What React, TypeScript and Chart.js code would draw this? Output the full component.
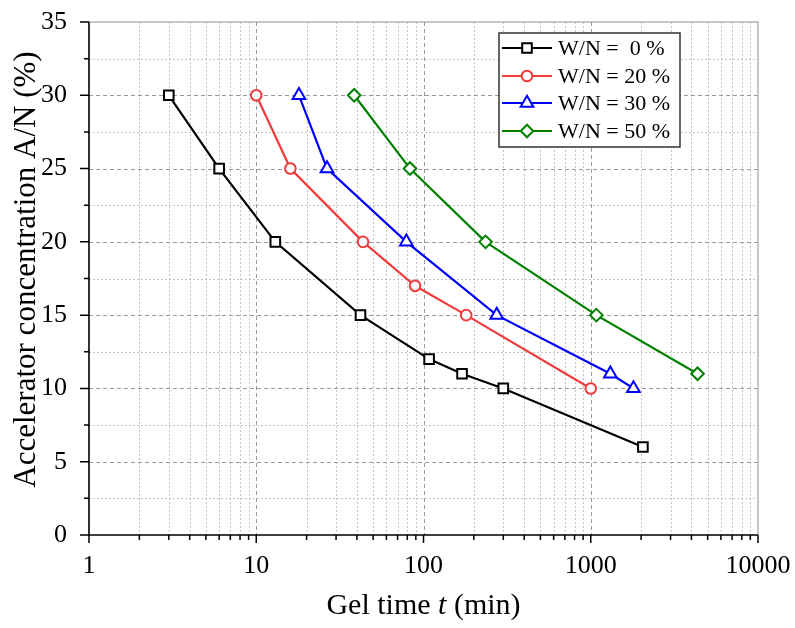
import React, { useEffect, useRef } from "react";
import { Chart, registerables } from "chart.js";

Chart.register(...registerables);

const seriesNames = ["W/N =  0 %", "W/N = 20 %", "W/N = 30 %", "W/N = 50 %"];
const seriesColors = ["#000000", "#f03c3c", "#0000ff", "#008000"];
const seriesMarkers = ["rect", "circle", "triangle", "rectRot"];

const time0 = [3, 6, 13, 42, 108, 170, 300, 2050];
const conc0 = [30, 25, 20, 15, 12, 11, 10, 6];
const time20 = [10, 16, 43.5, 89, 180, 1000];
const conc20 = [30, 25, 20, 17, 15, 10];
const time30 = [18, 26.5, 79, 274, 1310, 1800];
const conc30 = [30, 25, 20, 15, 11, 10];
const time50 = [38.5, 83, 235, 1080, 4350];
const conc50 = [30, 25, 20, 15, 11];

const xMajorTicks = [1, 10, 100, 1000, 10000];
const yMajorTicks = [0, 5, 10, 15, 20, 25, 30, 35];

const FONT = "'Liberation Serif', 'Times New Roman', serif";

function pts(xs: number[], ys: number[]) {
  return xs.map((x, i) => ({ x, y: ys[i] }));
}

function drawMarker(ctx: CanvasRenderingContext2D, style: string, x: number, y: number, r: number) {
  ctx.beginPath();
  if (style === "rect") {
    const s = Math.SQRT1_2 * r;
    ctx.rect(x - s, y - s, 2 * s, 2 * s);
  } else if (style === "circle") {
    ctx.arc(x, y, r, 0, Math.PI * 2);
  } else if (style === "triangle") {
    for (let k = 0; k < 3; k++) {
      const a = -Math.PI / 2 + (k * 2 * Math.PI) / 3;
      const px = x + Math.cos(a) * r;
      const py = y + Math.sin(a) * r;
      if (k === 0) ctx.moveTo(px, py);
      else ctx.lineTo(px, py);
    }
    ctx.closePath();
  } else {
    ctx.moveTo(x, y - r);
    ctx.lineTo(x + r, y);
    ctx.lineTo(x, y + r);
    ctx.lineTo(x - r, y);
    ctx.closePath();
  }
  ctx.fill();
  ctx.stroke();
}

const radii = [6.8, 5.3, 7.3, 6.3];

const framePlugin = {
  id: "frame",
  beforeDatasetsDraw(chart: any) {
    const { ctx, chartArea } = chart;
    const xs = chart.scales.x;
    const ys = chart.scales.y;
    const { left, right, top, bottom } = chartArea;
    ctx.save();
    ctx.lineWidth = 1;
    // minor x
    ctx.strokeStyle = "#c4c4c4";
    ctx.setLineDash([2, 2]);
    for (let d = 0; d < 4; d++) {
      for (let k = 2; k <= 9; k++) {
        const px = Math.round(xs.getPixelForValue(k * Math.pow(10, d))) + 0.5;
        ctx.beginPath();
        ctx.moveTo(px, top);
        ctx.lineTo(px, bottom);
        ctx.stroke();
      }
    }
    for (let v = 2.5; v < 35; v += 5) {
      const py = Math.round(ys.getPixelForValue(v)) + 0.5;
      ctx.beginPath();
      ctx.moveTo(left, py);
      ctx.lineTo(right, py);
      ctx.stroke();
    }
    // major
    ctx.strokeStyle = "#9a9a9a";
    ctx.setLineDash([4, 3]);
    for (const v of xMajorTicks.slice(1, -1)) {
      const px = Math.round(xs.getPixelForValue(v)) + 0.5;
      ctx.beginPath();
      ctx.moveTo(px, top);
      ctx.lineTo(px, bottom);
      ctx.stroke();
    }
    for (const v of yMajorTicks.slice(1, -1)) {
      const py = Math.round(ys.getPixelForValue(v)) + 0.5;
      ctx.beginPath();
      ctx.moveTo(left, py);
      ctx.lineTo(right, py);
      ctx.stroke();
    }
    ctx.setLineDash([]);
    // top/right border
    ctx.strokeStyle = "#b4b4b4";
    ctx.lineWidth = 1.5;
    ctx.beginPath();
    ctx.moveTo(left, top);
    ctx.lineTo(right, top);
    ctx.lineTo(right, bottom);
    ctx.stroke();
    // left/bottom axes
    ctx.strokeStyle = "#000";
    ctx.lineWidth = 1.6;
    ctx.beginPath();
    ctx.moveTo(left, top);
    ctx.lineTo(left, bottom);
    ctx.lineTo(right, bottom);
    ctx.stroke();
    // ticks
    ctx.lineWidth = 1.5;
    ctx.beginPath();
    for (const v of yMajorTicks) {
      const py = ys.getPixelForValue(v);
      ctx.moveTo(left - 9, py);
      ctx.lineTo(left, py);
    }
    for (let v = 2.5; v < 35; v += 5) {
      const py = ys.getPixelForValue(v);
      ctx.moveTo(left - 5, py);
      ctx.lineTo(left, py);
    }
    for (const v of xMajorTicks) {
      const px = xs.getPixelForValue(v);
      ctx.moveTo(px, bottom);
      ctx.lineTo(px, bottom + 8);
    }
    for (let d = 0; d < 4; d++) {
      for (let k = 2; k <= 9; k++) {
        const px = xs.getPixelForValue(k * Math.pow(10, d));
        ctx.moveTo(px, bottom);
        ctx.lineTo(px, bottom + 5);
      }
    }
    ctx.stroke();
    // axis titles
    ctx.fillStyle = "#000";
    ctx.textBaseline = "middle";
    const cx = (left + right) / 2;
    const parts = [
      { t: "Gel time ", f: `30px ${FONT}` },
      { t: "t", f: `italic 30px ${FONT}` },
      { t: " (min)", f: `30px ${FONT}` },
    ];
    let total = 0;
    for (const p of parts) {
      ctx.font = p.f;
      total += ctx.measureText(p.t).width;
    }
    let x0 = cx - total / 2;
    ctx.textAlign = "left";
    for (const p of parts) {
      ctx.font = p.f;
      ctx.fillText(p.t, x0, 606);
      x0 += ctx.measureText(p.t).width;
    }
    ctx.save();
    ctx.translate(27, (top + bottom) / 2 - 9);
    ctx.rotate(-Math.PI / 2);
    ctx.textAlign = "center";
    ctx.font = `31px ${FONT}`;
    ctx.fillText("Accelerator concentration A/N (%)", 0, 0);
    ctx.restore();
    ctx.restore();
  },
  afterDatasetsDraw(chart: any) {
    const { ctx } = chart;
    ctx.save();
    const bx = 499, by = 33, bw = 181, bh = 114;
    ctx.fillStyle = "#fff";
    ctx.fillRect(bx, by, bw, bh);
    ctx.strokeStyle = "#333";
    ctx.lineWidth = 1.5;
    ctx.strokeRect(bx, by, bw, bh);
    const rowsY = [48, 76, 103, 131];
    ctx.font = `22px ${FONT}`;
    ctx.textBaseline = "middle";
    ctx.textAlign = "left";
    for (let i = 0; i < 4; i++) {
      const y = rowsY[i];
      ctx.strokeStyle = seriesColors[i];
      ctx.lineWidth = 2;
      ctx.beginPath();
      ctx.moveTo(502, y);
      ctx.lineTo(552, y);
      ctx.stroke();
      ctx.fillStyle = "#fff";
      drawMarker(ctx, seriesMarkers[i], 527, y, radii[i]);
      ctx.fillStyle = "#000";
      ctx.fillText(seriesNames[i], 558, y + 1);
    }
    ctx.restore();
  },
};

export default function App() {
  const ref = useRef<HTMLCanvasElement | null>(null);
  useEffect(() => {
    if (!ref.current) return;
    const allX = [time0, time20, time30, time50];
    const allY = [conc0, conc20, conc30, conc50];
    const chart = new Chart(ref.current, {
      type: "line",
      data: {
        datasets: allX.map((xs, i) => ({
          label: seriesNames[i],
          data: pts(xs, allY[i]),
          borderColor: seriesColors[i],
          backgroundColor: "#ffffff",
          pointBackgroundColor: "#ffffff",
          pointBorderColor: seriesColors[i],
          pointStyle: seriesMarkers[i] as any,
          pointRadius: radii[i],
          pointBorderWidth: 2,
          borderWidth: 2.2,
          tension: 0,
          fill: false,
        })),
      },
      options: {
        animation: false,
        responsive: true,
        maintainAspectRatio: false,
        layout: { padding: { left: 0, top: 22, right: 37, bottom: 0 } },
        plugins: { legend: { display: false }, tooltip: { enabled: false } },
        scales: {
          x: {
            type: "logarithmic",
            min: 1,
            max: 10000,
            grid: { display: false, drawTicks: false, tickLength: 0 },
            border: { display: false },
            afterFit: (s: any) => {
              s.height = 93;
              s.paddingLeft = 0;
              s.paddingRight = 0;
            },
            afterBuildTicks: (s: any) => {
              s.ticks = xMajorTicks.map((v) => ({ value: v }));
            },
            ticks: {
              autoSkip: false,
              maxRotation: 0,
              padding: 16,
              color: "#000",
              font: { family: FONT, size: 26 },
              callback: (v: any) => String(v),
            },
          },
          y: {
            min: 0,
            max: 35,
            grid: { display: false, drawTicks: false, tickLength: 0 },
            border: { display: false },
            afterFit: (s: any) => {
              s.width = 89;
              s.paddingTop = 0;
              s.paddingBottom = 0;
            },
            afterBuildTicks: (s: any) => {
              s.ticks = yMajorTicks.map((v) => ({ value: v }));
            },
            ticks: {
              padding: 22,
              color: "#000",
              font: { family: FONT, size: 26 },
            },
          },
        },
      },
      plugins: [framePlugin],
    });
    return () => chart.destroy();
  }, []);
  return (
    <div style={{ position: "fixed", left: 0, top: 0, width: 795, height: 628, background: "#fff" }}>
      <canvas ref={ref} />
    </div>
  );
}
